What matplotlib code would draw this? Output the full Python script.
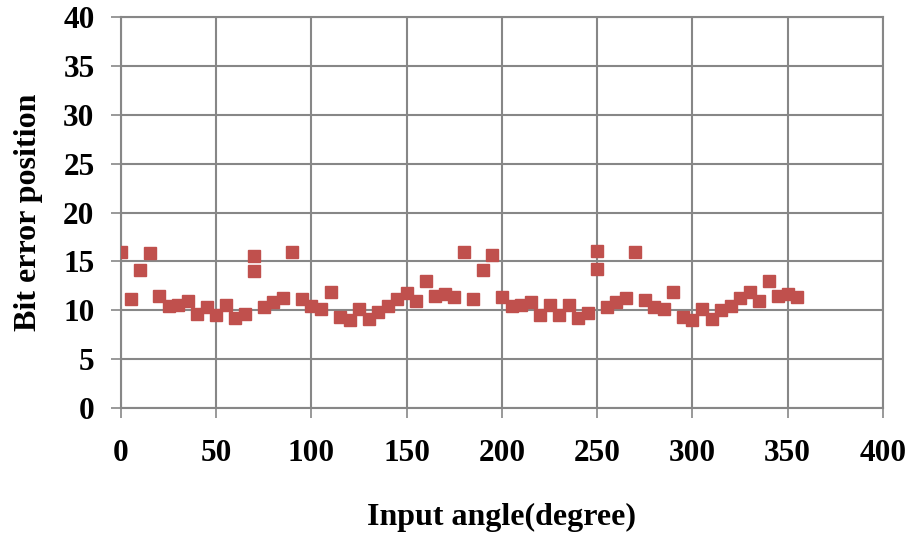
import matplotlib
matplotlib.use("Agg")
import matplotlib.pyplot as plt

# input angle (degree) and bit error position
angles = [0, 5, 10, 15, 20, 25, 30, 35, 40, 45, 50, 55, 60, 65, 70, 70,
          75, 80, 85, 90, 95, 100, 105, 110, 115, 120, 125, 130, 135, 140,
          145, 150, 155, 160, 165, 170, 175, 180, 185, 190, 195, 200, 205,
          210, 215, 220, 225, 230, 235, 240, 245, 250, 250, 255, 260, 265,
          270, 275, 280, 285, 290, 295, 300, 305, 310, 315, 320, 325, 330,
          335, 340, 345, 350, 355]
bit_error = [16.0, 11.1, 14.1, 15.9, 11.5, 10.4, 10.5, 10.9, 9.6, 10.3, 9.5,
             10.5, 9.2, 9.6, 14.0, 15.5, 10.3, 10.8, 11.3, 16.0, 11.1, 10.4,
             10.1, 11.9, 9.3, 9.0, 10.1, 9.1, 9.8, 10.4, 11.2, 11.8, 10.9,
             13.0, 11.5, 11.7, 11.4, 16.0, 11.1, 14.1, 15.7, 11.4, 10.4,
             10.5, 10.8, 9.5, 10.5, 9.5, 10.5, 9.2, 9.7, 16.1, 14.2, 10.3,
             10.8, 11.3, 16.0, 11.0, 10.3, 10.1, 11.9, 9.3, 9.0, 10.1, 9.1,
             10.0, 10.4, 11.3, 11.9, 10.9, 13.0, 11.5, 11.7, 11.4]

grid_col = "#878787"
font = {"family": "Liberation Serif", "weight": "bold"}

fig = plt.figure(figsize=(9.12, 5.33), dpi=100)
ax = fig.add_axes([121 / 912, 1 - 408 / 533, 762 / 912, 391 / 533])

ax.plot(angles, bit_error, linestyle="none", marker="s", markersize=8.5,
        color="#C0504D", markeredgecolor="#C0504D", zorder=3)

ax.set_xlim(0, 400)
ax.set_ylim(0, 40)
ax.set_xticks(range(0, 401, 50))
ax.set_yticks(range(0, 41, 5))
ax.grid(True, color=grid_col, linewidth=1.5)
ax.set_axisbelow(True)
for s in ax.spines.values():
    s.set_color(grid_col)
    s.set_linewidth(1.5)

ax.tick_params(axis="both", direction="out", length=7, width=1.2,
               color=grid_col, labelsize=22.5, pad=12)
ax.tick_params(axis="x", pad=15)
for lab in ax.get_xticklabels() + ax.get_yticklabels():
    lab.set_fontfamily(font["family"])
    lab.set_fontweight("bold")

ax.set_xlabel("Input angle(degree)", fontdict=font, fontsize=23)
ax.set_ylabel("Bit error position", fontdict=font, fontsize=23)
ax.xaxis.set_label_coords(0.5, -0.243)
ax.yaxis.set_label_coords(-0.102, 0.5)

fig.savefig("out.png", dpi=100)
